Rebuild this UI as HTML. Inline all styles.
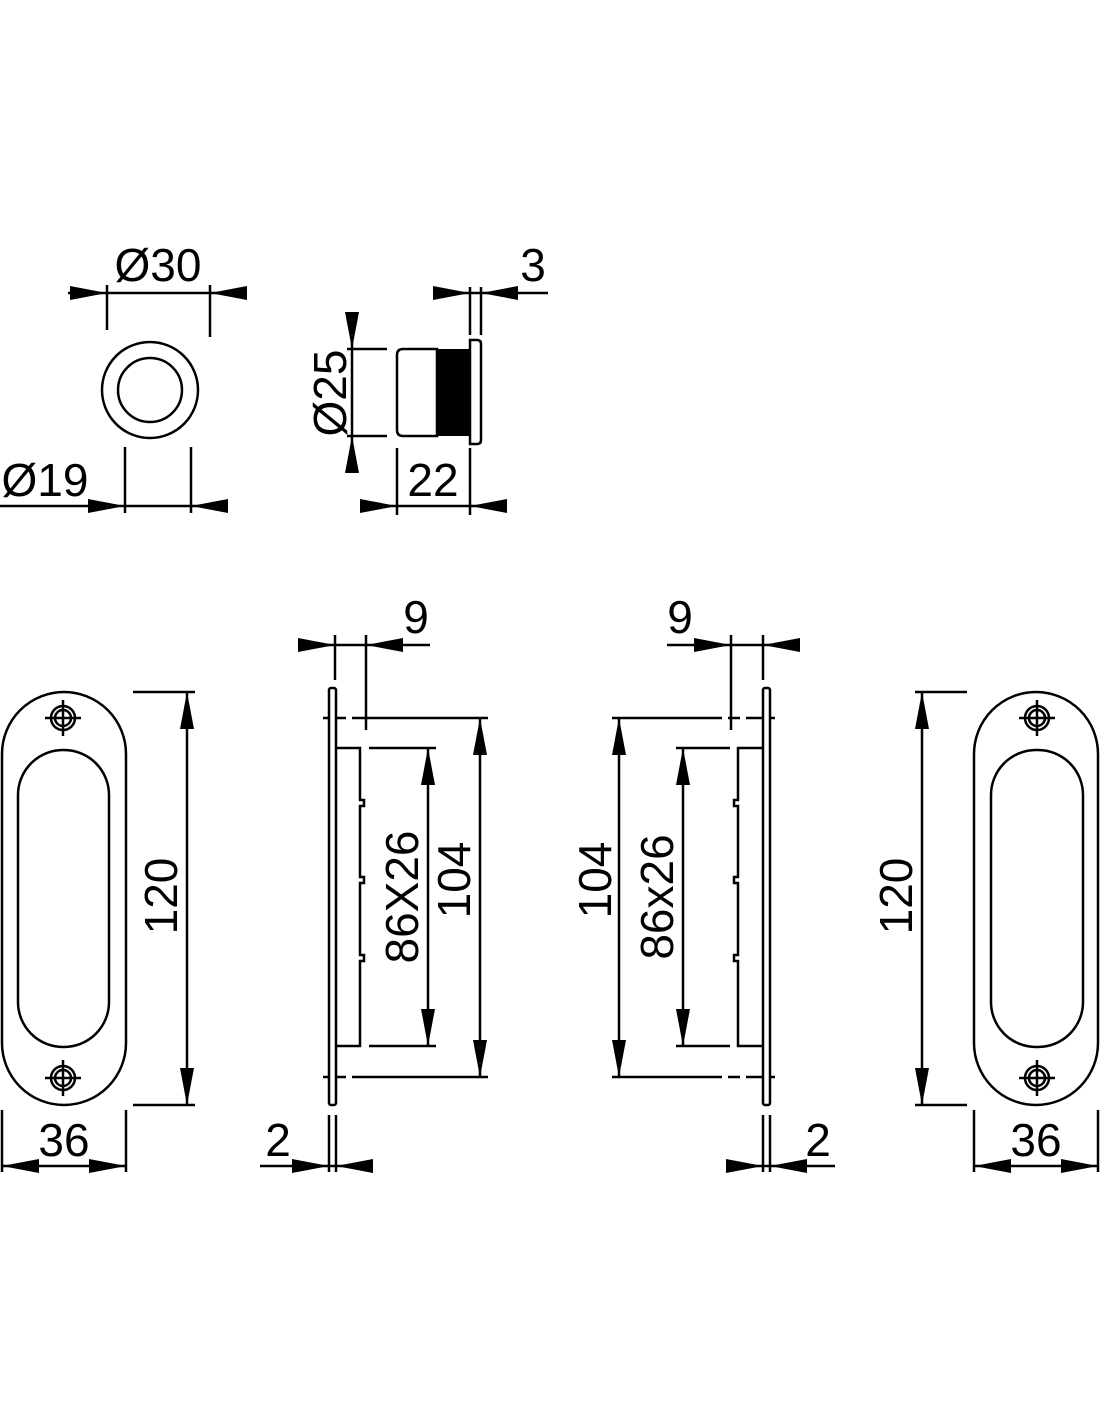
<!DOCTYPE html>
<html><head><meta charset="utf-8"><style>
html,body{margin:0;padding:0;background:#fff}
svg{display:block}
text{font-family:"Liberation Sans",Arial,sans-serif;font-size:46px;fill:#000}
</style></head><body>
<svg width="1100" height="1422" viewBox="0 0 1100 1422" xmlns="http://www.w3.org/2000/svg">
<defs>
<path id="ar" d="M0 0 L-37 -7 L-37 7 Z" fill="#000"/>
</defs>
<g stroke="#000" stroke-width="2.5" fill="none">
<circle cx="150" cy="390" r="48"/>
<circle cx="150" cy="390" r="32"/>
<line x1="107" y1="285" x2="107" y2="330"/>
<line x1="210" y1="285" x2="210" y2="337"/>
<line x1="68" y1="293" x2="245" y2="293"/>
<line x1="125" y1="447" x2="125" y2="513"/>
<line x1="191" y1="447" x2="191" y2="513"/>
<line x1="0" y1="506" x2="226" y2="506"/>
<path d="M403 349 H437 V436 H403 Q397 436 397 430 V355 Q397 349 403 349 Z"/>
<path d="M470 340 H477 Q481 340 481 344 V440 Q481 444 477 444 H470 Z"/>
<line x1="347" y1="349" x2="387" y2="349"/>
<line x1="347" y1="436" x2="387" y2="436"/>
<line x1="352" y1="315" x2="352" y2="470"/>
<line x1="397" y1="448" x2="397" y2="515"/>
<line x1="470" y1="448" x2="470" y2="515"/>
<line x1="360" y1="506" x2="506" y2="506"/>
<line x1="470" y1="287" x2="470" y2="335"/>
<line x1="481" y1="287" x2="481" y2="335"/>
<line x1="437" y1="293" x2="548" y2="293"/>
<rect x="2" y="692" width="124" height="413" rx="62" ry="62"/>
<rect x="18" y="750" width="91" height="297" rx="45" ry="45"/>
<line x1="133" y1="692" x2="195" y2="692"/>
<line x1="133" y1="1105" x2="195" y2="1105"/>
<line x1="187" y1="692" x2="187" y2="1105"/>
<line x1="2" y1="1110" x2="2" y2="1172"/>
<line x1="126" y1="1110" x2="126" y2="1172"/>
<line x1="2" y1="1166" x2="126" y2="1166"/>
<rect x="974" y="692" width="124" height="413" rx="62" ry="62"/>
<rect x="991" y="750" width="92" height="297" rx="45" ry="45"/>
<line x1="915" y1="692" x2="967" y2="692"/>
<line x1="915" y1="1105" x2="967" y2="1105"/>
<line x1="922" y1="692" x2="922" y2="1105"/>
<line x1="974" y1="1110" x2="974" y2="1172"/>
<line x1="1098" y1="1110" x2="1098" y2="1172"/>
<line x1="974" y1="1166" x2="1098" y2="1166"/>
<g><circle cx="63" cy="718" r="12"/><circle cx="63" cy="718" r="8"/><line x1="45" y1="718" x2="81" y2="718"/><line x1="63" y1="700" x2="63" y2="736"/></g>
<g><circle cx="63" cy="1078" r="12"/><circle cx="63" cy="1078" r="8"/><line x1="45" y1="1078" x2="81" y2="1078"/><line x1="63" y1="1060" x2="63" y2="1096"/></g>
<g><circle cx="1037" cy="718" r="12"/><circle cx="1037" cy="718" r="8"/><line x1="1019" y1="718" x2="1055" y2="718"/><line x1="1037" y1="700" x2="1037" y2="736"/></g>
<g><circle cx="1037" cy="1078" r="12"/><circle cx="1037" cy="1078" r="8"/><line x1="1019" y1="1078" x2="1055" y2="1078"/><line x1="1037" y1="1060" x2="1037" y2="1096"/></g>
<rect x="329" y="688" width="7" height="417" rx="2"/>
<path d="M323 718 H330 M336 718 H346 M352 718 H488" />
<path d="M323 1077 H330 M336 1077 H346 M352 1077 H488" />
<line x1="480" y1="718" x2="480" y2="1077"/>
<path d="M336 748 H360 V800 H364 V806 H360 V877 H364 V883 H360 V955 H364 V961 H360 V1046 H336"/>
<line x1="369" y1="748" x2="436" y2="748"/>
<line x1="369" y1="1046" x2="436" y2="1046"/>
<line x1="428" y1="748" x2="428" y2="1046"/>
<line x1="335" y1="635" x2="335" y2="680"/>
<line x1="366" y1="635" x2="366" y2="730"/>
<line x1="300" y1="645" x2="430" y2="645"/>
<line x1="329" y1="1115" x2="329" y2="1172"/>
<line x1="336" y1="1115" x2="336" y2="1172"/>
<line x1="260" y1="1166" x2="370" y2="1166"/>
<rect x="763" y="688" width="7" height="417" rx="2"/>
<path d="M612 718 H722 M728 718 H740 M746 718 H764 M770 718 H775"/>
<path d="M612 1077 H722 M728 1077 H740 M746 1077 H764 M770 1077 H775"/>
<line x1="619" y1="718" x2="619" y2="1077"/>
<path d="M763 748 H738 V800 H734 V806 H738 V877 H734 V883 H738 V955 H734 V961 H738 V1046 H763"/>
<line x1="676" y1="748" x2="730" y2="748"/>
<line x1="676" y1="1046" x2="730" y2="1046"/>
<line x1="683" y1="748" x2="683" y2="1046"/>
<line x1="731" y1="635" x2="731" y2="730"/>
<line x1="763" y1="635" x2="763" y2="680"/>
<line x1="667" y1="645" x2="797" y2="645"/>
<line x1="763" y1="1115" x2="763" y2="1172"/>
<line x1="770" y1="1115" x2="770" y2="1172"/>
<line x1="728" y1="1166" x2="835" y2="1166"/>
</g>
<rect x="437" y="349" width="33" height="87" fill="#000"/>
<g fill="#000">
<use href="#ar" transform="translate(107,293)"/>
<use href="#ar" transform="translate(210,293) rotate(180)"/>
<use href="#ar" transform="translate(125,506)"/>
<use href="#ar" transform="translate(191,506) rotate(180)"/>
<use href="#ar" transform="translate(352,349) rotate(90)"/>
<use href="#ar" transform="translate(352,436) rotate(-90)"/>
<use href="#ar" transform="translate(397,506)"/>
<use href="#ar" transform="translate(470,506) rotate(180)"/>
<use href="#ar" transform="translate(470,293)"/>
<use href="#ar" transform="translate(481,293) rotate(180)"/>
<use href="#ar" transform="translate(187,692) rotate(-90)"/>
<use href="#ar" transform="translate(187,1105) rotate(90)"/>
<use href="#ar" transform="translate(2,1166) rotate(180)"/>
<use href="#ar" transform="translate(126,1166)"/>
<use href="#ar" transform="translate(922,692) rotate(-90)"/>
<use href="#ar" transform="translate(922,1105) rotate(90)"/>
<use href="#ar" transform="translate(974,1166) rotate(180)"/>
<use href="#ar" transform="translate(1098,1166)"/>
<use href="#ar" transform="translate(480,718) rotate(-90)"/>
<use href="#ar" transform="translate(480,1077) rotate(90)"/>
<use href="#ar" transform="translate(428,748) rotate(-90)"/>
<use href="#ar" transform="translate(428,1046) rotate(90)"/>
<use href="#ar" transform="translate(335,645)"/>
<use href="#ar" transform="translate(366,645) rotate(180)"/>
<use href="#ar" transform="translate(329,1166)"/>
<use href="#ar" transform="translate(336,1166) rotate(180)"/>
<use href="#ar" transform="translate(619,718) rotate(-90)"/>
<use href="#ar" transform="translate(619,1077) rotate(90)"/>
<use href="#ar" transform="translate(683,748) rotate(-90)"/>
<use href="#ar" transform="translate(683,1046) rotate(90)"/>
<use href="#ar" transform="translate(731,645)"/>
<use href="#ar" transform="translate(763,645) rotate(180)"/>
<use href="#ar" transform="translate(763,1166)"/>
<use href="#ar" transform="translate(770,1166) rotate(180)"/>
</g>
<text x="158" y="281" text-anchor="middle">Ø30</text>
<text x="45" y="496" text-anchor="middle">Ø19</text>
<text x="533" y="281" text-anchor="middle">3</text>
<text x="433" y="496" text-anchor="middle">22</text>
<text transform="translate(346,393) rotate(-90)" text-anchor="middle">Ø25</text>
<text transform="translate(177,896) rotate(-90)" text-anchor="middle">120</text>
<text transform="translate(912,896) rotate(-90)" text-anchor="middle">120</text>
<text x="64" y="1156" text-anchor="middle">36</text>
<text x="1036" y="1156" text-anchor="middle">36</text>
<text x="416" y="633" text-anchor="middle">9</text>
<text x="680" y="633" text-anchor="middle">9</text>
<text x="278" y="1156" text-anchor="middle">2</text>
<text x="818" y="1156" text-anchor="middle">2</text>
<text transform="translate(418,897) rotate(-90)" text-anchor="middle">86X26</text>
<text transform="translate(470,880) rotate(-90)" text-anchor="middle">104</text>
<text transform="translate(611,880) rotate(-90)" text-anchor="middle">104</text>
<text transform="translate(673,897) rotate(-90)" text-anchor="middle">86x26</text>
</svg>
</body></html>
